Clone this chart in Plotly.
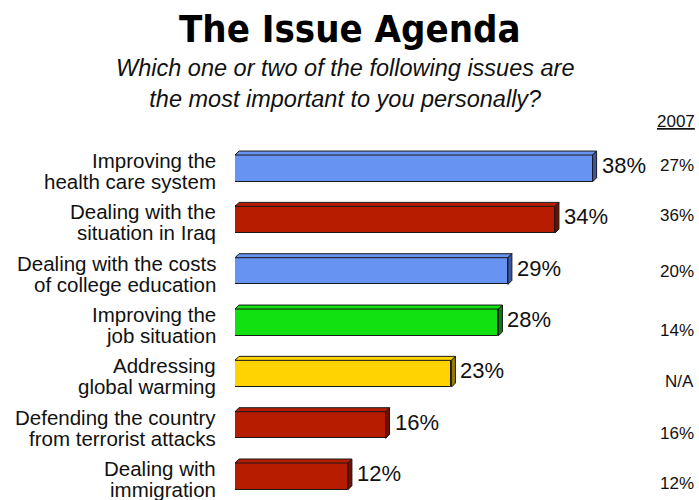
import plotly.graph_objects as go

# Issue labels (two lines each), current shares (%) and the 2007 column
issue_line1 = [
    "Improving the",
    "Dealing with the",
    "Dealing with the costs",
    "Improving the",
    "Addressing",
    "Defending the country",
    "Dealing with",
]
issue_line2 = [
    "health care system",
    "situation in Iraq",
    "of college education",
    "job situation",
    "global warming",
    "from terrorist attacks",
    "immigration",
]
shares = [38, 34, 29, 28, 23, 16, 12]
shares_2007 = ["27%", "36%", "20%", "14%", "N/A", "16%", "12%"]

# front / side colours per bar
BLUE, RED, GREEN, YELLOW = "#6794F2", "#B81C00", "#11E011", "#FFD300"
SIDE = {BLUE: "#3A56A6", RED: "#6E1000", GREEN: "#0A800A", YELLOW: "#9A7A00"}
front_colors = [BLUE, RED, BLUE, GREEN, YELLOW, RED, RED]
side_colors = [SIDE[c] for c in front_colors]

W, H = 699, 500
M_L, M_R, M_T, M_B = 235, 0, 130, 0
PX_PER_PCT = 9.41
PX_PER_ROW = 51.33
FIRST_ROW_PX = 168.4
x_max = (W - M_L - M_R) / PX_PER_PCT
y_top = -(FIRST_ROW_PX - M_T) / PX_PER_ROW
y_bot = y_top + (H - M_T - M_B) / PX_PER_ROW


def paper_x(px):
    return (px - M_L) / (W - M_L - M_R)


def paper_y(py):
    return (H - M_B - py) / (H - M_T - M_B)


BAR_W = 26.7 / PX_PER_ROW
DX = 4 / PX_PER_PCT          # 3D depth, horizontal
DY = 4 / PX_PER_ROW          # 3D depth, vertical
EDGE = "#1A1A1A"

rows = list(range(len(shares)))
fig = go.Figure()

# 3D top and side faces of each bar
for i, v in enumerate(shares):
    top = i - BAR_W / 2
    bot = i + BAR_W / 2
    fig.add_trace(go.Scatter(
        x=[0, v, v + DX, DX, 0], y=[top, top, top - DY, top - DY, top],
        mode="lines", fill="toself", fillcolor=front_colors[i],
        line=dict(color=EDGE, width=1), hoverinfo="skip", showlegend=False))
    fig.add_trace(go.Scatter(
        x=[v, v + DX, v + DX, v, v], y=[top, top - DY, bot - DY, bot, top],
        mode="lines", fill="toself", fillcolor=side_colors[i],
        line=dict(color=EDGE, width=1), hoverinfo="skip", showlegend=False))

# front faces
fig.add_trace(go.Bar(
    x=shares, y=rows, orientation="h", width=BAR_W,
    marker=dict(color=front_colors, line=dict(color=EDGE, width=1)),
    hoverinfo="skip", showlegend=False))

SANS = "Liberation Sans, Arial, sans-serif"
annotations = []
for i, v in enumerate(shares):
    # value label right of the bar
    annotations.append(dict(
        x=v + DX, y=i, xref="x", yref="y", text=f"{v}%", showarrow=False,
        xanchor="left", yanchor="middle", xshift=3, yshift=3,
        font=dict(family=SANS, size=22, color="#111111")))
    # issue label, two right-aligned lines
    for line, shift in ((issue_line1[i], 8), (issue_line2[i], -13)):
        annotations.append(dict(
            x=0, y=i, xref="paper", yref="y", text=line, showarrow=False,
            xanchor="right", yanchor="middle", xshift=-17, yshift=shift,
            font=dict(family=SANS, size=20.5, color="#111111")))

# 2007 column
col_shift = [3, 4.5, 0, -8.5, -8, -8, -7.5]
for i, s in enumerate(shares_2007):
    annotations.append(dict(
        x=1, y=i, xref="paper", yref="y", text=s, showarrow=False,
        xanchor="right", yanchor="middle", xshift=-3, yshift=col_shift[i],
        font=dict(family=SANS, size=17, color="#111111")))
annotations.append(dict(
    x=1, y=paper_y(121), xref="paper", yref="paper", text="<u>2007</u>",
    showarrow=False, xanchor="right", yanchor="middle", xshift=-2,
    font=dict(family=SANS, size=17, color="#111111")))

# title and question
annotations.append(dict(
    x=paper_x(350), y=paper_y(29), xref="paper", yref="paper",
    text="<b>The Issue Agenda</b>", showarrow=False,
    xanchor="center", yanchor="middle",
    font=dict(family="DejaVu Sans Condensed, DejaVu Sans", size=38, color="#000000")))
annotations.append(dict(
    x=paper_x(345), y=paper_y(84), xref="paper", yref="paper",
    text="<i>Which one or two of the following issues are<br>"
         "the most important to you personally?</i>",
    showarrow=False, xanchor="center", yanchor="middle", align="center",
    font=dict(family=SANS, size=23.5, color="#111111")))

fig.update_layout(
    width=W, height=H,
    margin=dict(l=M_L, r=M_R, t=M_T, b=M_B),
    paper_bgcolor="white", plot_bgcolor="white",
    xaxis=dict(range=[0, x_max], visible=False, fixedrange=True),
    yaxis=dict(range=[y_bot, y_top], visible=False, fixedrange=True),
    annotations=annotations,
    bargap=0,
)
fig.write_html("out.html")
